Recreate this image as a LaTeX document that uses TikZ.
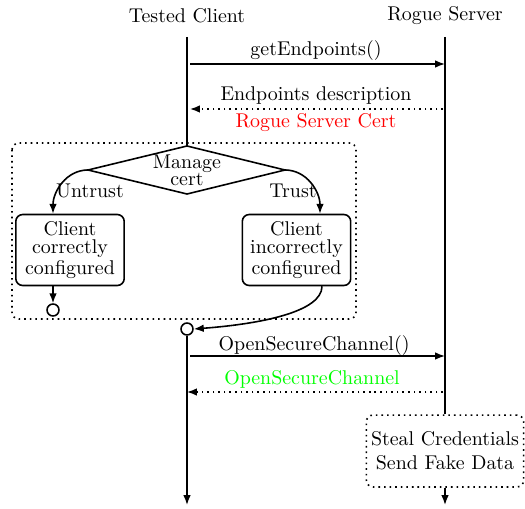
\documentclass[tikz,border=0pt]{standalone}
\usetikzlibrary{arrows.meta}
\begin{document}
\begin{tikzpicture}[x=0.502pt,y=-0.502pt,
  lifeline/.style={thick},
  tip/.style={-{Latex[length=5pt,width=3.85pt]}},
  msg/.style={thick,tip},
  reply/.style={thick,dotted,tip},
  statebox/.style={draw,thick,rounded corners=3.4pt,align=center,inner sep=0pt,
    minimum width=54.4pt,minimum height=35.6pt,font=\fontsize{10}{9.05}\selectfont},
  endcirc/.style={draw,thick,circle,inner sep=0pt,minimum size=6pt},
  group/.style={thick,dotted,rounded corners=3.4pt}]
\useasboundingbox (0,0) rectangle (525,508);

% titles
\node (tc) at (187,16) {Tested Client};
\node (rs) at (445,16) {Rogue Server};

% lifeline coordinates
\coordinate (c0) at (187,37);
\coordinate (s0) at (445,37);
\coordinate (s1) at (445,64);
\coordinate (c1) at (190,64);
\coordinate (s2) at (443,109);
\coordinate (c2) at (190,109);
\coordinate (c3) at (190,356);
\coordinate (s3) at (445,356);
\coordinate (s4) at (443,392);
\coordinate (c4) at (187,392);
\coordinate (cend) at (187,505);
\coordinate (send) at (445,505);

% group box
\draw[group] (12,143) rectangle (356,319);

% diamond
\coordinate (dt) at (187,146);
\coordinate (dr) at (285,170);
\coordinate (db) at (187,194);
\coordinate (dl) at (88,170);
\draw[thick] (dt) -- (dr) -- (db) -- (dl) -- cycle;
\node[align=center,font=\fontsize{10}{8.5}\selectfont] (dm) at (187,170) {Manage\\cert};

\draw[lifeline] (c0) -- (dt);

% state boxes
\node[statebox] (ok) at (70,250) {Client\\correctly\\configured};
\node[statebox] (bad) at (296.5,250) {Client\\incorrectly\\configured};

\draw[msg] (dl) to[out=180,in=90] (ok.north -| 53,0);
\draw[msg] (dr) to[out=0,in=90] (bad.north -| 320,0);
\node (untrust) at (90,191) {Untrust};
\node (trust) at (293,191) {Trust};

\node[endcirc] (e1) at (53,310) {};
\draw[msg] (ok.south -| e1) -- (e1.north);

\node[endcirc] (e2) at (187,329) {};
\draw[msg] (bad.south -| 322,0) .. controls (322,312) and (260,324) .. (e2.east);

\draw[lifeline,tip] (e2.south) -- (cend);

% server lifeline and box
\node[draw,thick,dotted,rounded corners=3.4pt,align=center,inner sep=0pt,
  minimum width=79pt,minimum height=36.1pt] (steal) at (445,451)
  {Steal Credentials\\Send Fake Data};
\draw[lifeline] (s0) -- (steal.north);
\draw[lifeline,tip] (steal.south) -- (send);

% messages
\draw[msg] (c1) -- (s1);
\node (m1) at (316,51) {getEndpoints()};
\draw[reply] (s2) -- (c2);
\node (m2) at (316,96) {Endpoints description};
\node[text=red] (m2b) at (316,123) {Rogue Server Cert};
\draw[msg] (c3) -- (s3);
\node (m3) at (314,346) {OpenSecureChannel()};
\draw[reply] (s4) -- (c4);
\node[text=green] (m4) at (312,379) {OpenSecureChannel};
\end{tikzpicture}
\end{document}
